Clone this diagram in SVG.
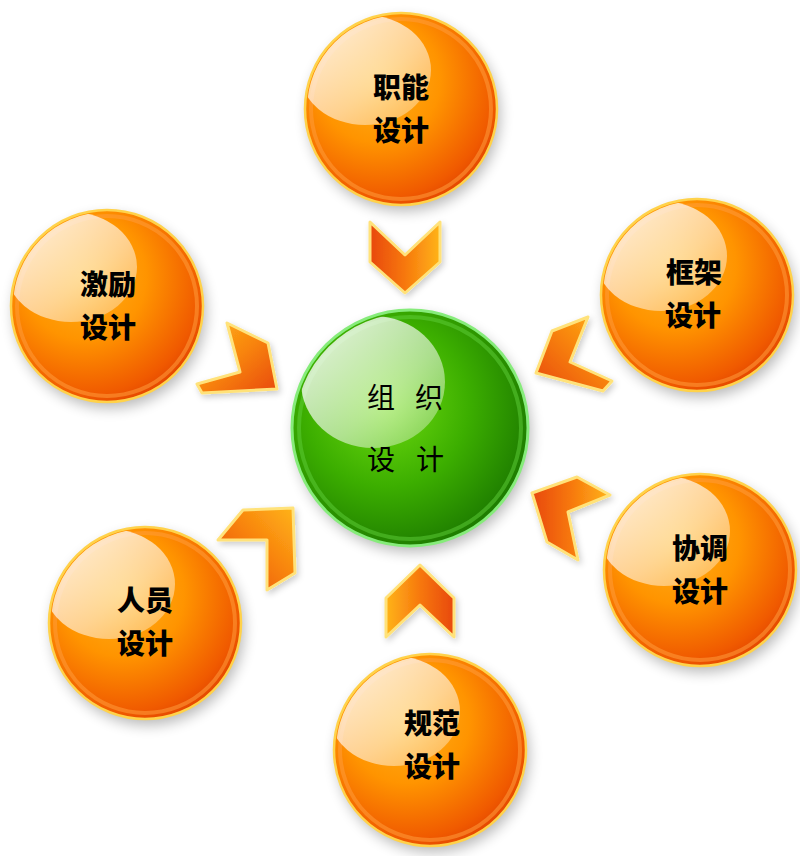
<svg xmlns="http://www.w3.org/2000/svg" width="800" height="856" viewBox="0 0 800 856">
<defs>
<style>
.lbl{font-family:"Noto Sans CJK SC","Noto Sans",sans-serif;font-weight:900;font-size:28px;fill:#000;text-anchor:middle}
.ctr{font-family:"Noto Sans CJK SC","Noto Sans",sans-serif;font-weight:normal;font-size:28px;fill:#000;text-anchor:middle}
.ball{fill:url(#gOrange);stroke:#ffd24a;stroke-width:2.5}
.rim{fill:none;stroke:#ff9d3a;stroke-width:4;opacity:.55}
.shine{fill:url(#gShine)}
.shadow{fill:#000;opacity:.28;filter:url(#blur)}
.chev{stroke:#ffe27a;stroke-width:3;stroke-linejoin:round;filter:url(#glow)}
</style>
<radialGradient id="gOrange" cx="0.38" cy="0.35" r="0.72">
<stop offset="0" stop-color="#ffb21a"/>
<stop offset="0.45" stop-color="#ff9400"/>
<stop offset="0.85" stop-color="#f05a00"/>
<stop offset="1" stop-color="#e04000"/>
</radialGradient>
<radialGradient id="gGreen" cx="0.4" cy="0.4" r="0.7">
<stop offset="0" stop-color="#6fdc10"/>
<stop offset="0.5" stop-color="#3cae00"/>
<stop offset="0.9" stop-color="#1e7d00"/>
<stop offset="1" stop-color="#2a8f10"/>
</radialGradient>
<linearGradient id="gShine" x1="0" y1="0" x2="1" y2="1">
<stop offset="0" stop-color="#fff" stop-opacity="0.92"/>
<stop offset="0.6" stop-color="#fff" stop-opacity="0.55"/>
<stop offset="1" stop-color="#fff" stop-opacity="0.25"/>
</linearGradient>
<linearGradient id="gChevA" x1="0" y1="0" x2="1" y2="0">
<stop offset="0" stop-color="#e8480c"/>
<stop offset="0.5" stop-color="#f7780e"/>
<stop offset="1" stop-color="#ffb418"/>
</linearGradient>
<linearGradient id="gChevB" x1="1" y1="0" x2="0" y2="0">
<stop offset="0" stop-color="#e8480c"/>
<stop offset="0.5" stop-color="#f7780e"/>
<stop offset="1" stop-color="#ffb418"/>
</linearGradient>
<linearGradient id="gChevC" x1="0" y1="1" x2="1" y2="0">
<stop offset="0" stop-color="#e8480c"/>
<stop offset="0.55" stop-color="#f8840e"/>
<stop offset="1" stop-color="#ffb418"/>
</linearGradient>
<linearGradient id="gChevD" x1="0" y1="0" x2="1" y2="1">
<stop offset="0" stop-color="#ffb418"/>
<stop offset="0.5" stop-color="#f8840e"/>
<stop offset="1" stop-color="#e8480c"/>
</linearGradient>
<filter id="blur" x="-30%" y="-30%" width="160%" height="160%">
<feGaussianBlur stdDeviation="7"/>
</filter>
<filter id="glow" x="-30%" y="-30%" width="160%" height="160%">
<feDropShadow dx="2" dy="3" stdDeviation="3" flood-color="#000" flood-opacity="0.2"/>
</filter>
<clipPath id="cTop"><circle cx="401" cy="109" r="94"/></clipPath>
<clipPath id="cL"><circle cx="107" cy="306" r="94"/></clipPath>
<clipPath id="cR"><circle cx="697" cy="295" r="94"/></clipPath>
<clipPath id="cRL"><circle cx="700" cy="570" r="94"/></clipPath>
<clipPath id="cLL"><circle cx="145" cy="623" r="94"/></clipPath>
<clipPath id="cB"><circle cx="430" cy="750" r="94"/></clipPath>
<clipPath id="cC"><circle cx="410" cy="428" r="115"/></clipPath>
</defs>
<rect width="800" height="856" fill="#fff"/>

<g id="connectors">
<polygon class="chev" fill="url(#gChevA)" points="370,222 405,255 440,222 440,262 405,293 370,262"/>
<polygon class="chev" fill="url(#gChevB)" points="420,565 454,598 454,637 420,605 386,637 386,598"/>
<polygon class="chev" fill="url(#gChevD)" points="227,323 268,343 277,389 202,393 197,384 240,372"/>
<polygon class="chev" fill="url(#gChevC)" points="588,317 552,331 536,373 603,391 612,381 570,362"/>
<polygon class="chev" fill="url(#gChevC)" points="243,510 293,508 295,573 267,590 267,540 218,540"/>
<polygon class="chev" fill="url(#gChevA)" points="532,493 577,477 610,495 568,512 578,560 547,542"/>
</g>

<g id="node-zhineng">
<circle class="shadow" cx="404" cy="115" r="96"/>
<circle class="ball" cx="401" cy="109" r="96"/>
<circle class="rim" cx="401" cy="109" r="90"/>
<ellipse class="shine" cx="365" cy="70" rx="66" ry="55" clip-path="url(#cTop)"/>
<text class="lbl" x="401" y="98">职能</text>
<text class="lbl" x="401" y="141">设计</text>
</g>

<g id="node-jili">
<circle class="shadow" cx="110" cy="312" r="96"/>
<circle class="ball" cx="107" cy="306" r="96"/>
<circle class="rim" cx="107" cy="306" r="90"/>
<ellipse class="shine" cx="71" cy="267" rx="66" ry="55" clip-path="url(#cL)"/>
<text class="lbl" x="108" y="295">激励</text>
<text class="lbl" x="108" y="338">设计</text>
</g>

<g id="node-kuangjia">
<circle class="shadow" cx="700" cy="301" r="96"/>
<circle class="ball" cx="697" cy="295" r="96"/>
<circle class="rim" cx="697" cy="295" r="90"/>
<ellipse class="shine" cx="661" cy="256" rx="66" ry="55" clip-path="url(#cR)"/>
<text class="lbl" x="694" y="283">框架</text>
<text class="lbl" x="693" y="326">设计</text>
</g>

<g id="node-xietiao">
<circle class="shadow" cx="703" cy="576" r="96"/>
<circle class="ball" cx="700" cy="570" r="96"/>
<circle class="rim" cx="700" cy="570" r="90"/>
<ellipse class="shine" cx="664" cy="531" rx="66" ry="55" clip-path="url(#cRL)"/>
<text class="lbl" x="700" y="559">协调</text>
<text class="lbl" x="700" y="602">设计</text>
</g>

<g id="node-renyuan">
<circle class="shadow" cx="148" cy="629" r="96"/>
<circle class="ball" cx="145" cy="623" r="96"/>
<circle class="rim" cx="145" cy="623" r="90"/>
<ellipse class="shine" cx="109" cy="584" rx="66" ry="55" clip-path="url(#cLL)"/>
<text class="lbl" x="145" y="611">人员</text>
<text class="lbl" x="145" y="654">设计</text>
</g>

<g id="node-guifan">
<circle class="shadow" cx="433" cy="756" r="96"/>
<circle class="ball" cx="430" cy="750" r="96"/>
<circle class="rim" cx="430" cy="750" r="90"/>
<ellipse class="shine" cx="394" cy="711" rx="66" ry="55" clip-path="url(#cB)"/>
<text class="lbl" x="432" y="734">规范</text>
<text class="lbl" x="432" y="777">设计</text>
</g>

<g id="node-zuzhi">
<circle class="shadow" cx="413" cy="434" r="118"/>
<circle cx="410" cy="428" r="118" fill="url(#gGreen)" stroke="#86ec7a" stroke-width="3"/>
<circle cx="410" cy="428" r="111" fill="none" stroke="#5fcf3a" stroke-width="4" opacity=".5"/>
<ellipse class="shine" cx="373" cy="382" rx="72" ry="66" clip-path="url(#cC)"/>
<text class="ctr" x="381" y="408">组</text>
<text class="ctr" x="429" y="408">织</text>
<text class="ctr" x="381" y="470">设</text>
<text class="ctr" x="430" y="470">计</text>
</g>
</svg>
